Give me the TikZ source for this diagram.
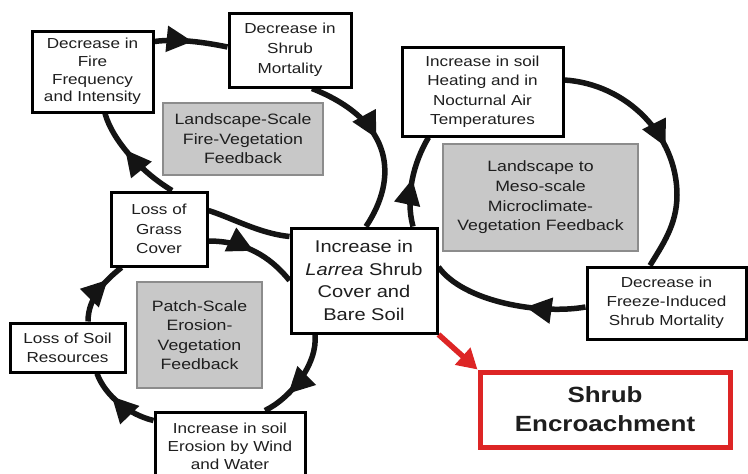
\documentclass[tikz,border=0pt]{standalone}
\usepackage{fontspec}
\setmainfont{Liberation Sans}[FakeStretch=1.18]
\usetikzlibrary{arrows.meta,decorations.markings,calc}
\pgfdeclarelayer{back}
\pgfdeclarelayer{bg}
\pgfsetlayers{back,bg,main}
\definecolor{fbgray}{RGB}{200,200,200}
\definecolor{fbedge}{RGB}{140,140,140}
\definecolor{encred}{RGB}{221,37,37}
\definecolor{txt}{RGB}{30,30,30}
\tikzset{
  box/.style={draw=black,line width=3pt,fill=white,align=center,inner sep=0pt,text=txt,
    font=\fontsize{14.5}{19}\selectfont},
  fb/.style={draw=fbedge,line width=2pt,fill=fbgray,align=center,inner sep=0pt,text=txt,
    font=\fontsize{15}{19.5}\selectfont},
  fbline/.style={line width=5.5pt,black!92},
  tipat/.style={postaction={decorate},
    decoration={markings,mark=at position #1 with {\arrow{Triangle[length=26pt,width=25pt]}}}},
}
\begin{document}
\begin{tikzpicture}[x=1pt,y=-1pt]
\clip (0,0) rectangle (748,474);
\begin{pgfonlayer}{back}
\fill[white] (0,0) rectangle (748,474);
\end{pgfonlayer}

% boxes
\node[box,minimum width=121pt,minimum height=81pt,font=\fontsize{14.5}{17.7}\selectfont] (fire) at (92.5,71.5)
  {Decrease in\\Fire\\Frequency\\and Intensity};
\node[box,minimum width=122pt,minimum height=74pt,font=\fontsize{14.5}{20}\selectfont] (mort) at (290,50)
  {Decrease in\\Shrub\\Mortality};
\node[fb,minimum width=160pt,minimum height=72pt] (fireFb) at (243,139)
  {Landscape-Scale\\Fire-Vegetation\\Feedback};
\node[box,minimum width=96pt,minimum height=74pt,font=\fontsize{14.5}{19.5}\selectfont] (grass) at (159,229)
  {Loss of\\Grass\\Cover};
\node[box,minimum width=146pt,minimum height=105pt,font=\fontsize{17}{22.5}\selectfont] (larrea) at (364,280.5)
  {Increase in\\\textit{Larrea} Shrub\\Cover and\\Bare Soil};
\node[box,minimum width=161pt,minimum height=89pt,font=\fontsize{14.5}{19.5}\selectfont] (heat) at (482.5,91.5)
  {Increase in soil\\Heating and in\\Nocturnal Air\\Temperatures};
\node[fb,minimum width=195pt,minimum height=107pt,font=\fontsize{15}{19.6}\selectfont] (microFb) at (540.5,197.5)
  {Landscape to\\Meso-scale\\Microclimate-\\Vegetation Feedback};
\node[box,minimum width=159pt,minimum height=72pt] (freeze) at (666.5,303)
  {Decrease in\\Freeze-Induced\\Shrub Mortality};
\node[draw=encred,line width=5pt,fill=white,align=center,inner sep=0pt,text=txt,
  minimum width=250pt,minimum height=75pt,font=\bfseries\fontsize{22}{29}\selectfont] (shrub) at (605,409.5)
  {Shrub\\Encroachment};
\node[box,minimum width=115pt,minimum height=49pt] (soil) at (67.5,347.5)
  {Loss of Soil\\Resources};
\node[fb,minimum width=125pt,minimum height=106pt,font=\fontsize{15}{19.3}\selectfont] (patchFb) at (199.5,335)
  {Patch-Scale\\Erosion-\\Vegetation\\Feedback};
\node[box,minimum width=150pt,minimum height=68pt,font=\fontsize{14.5}{18}\selectfont] (erosion) at (230,446)
  {Increase in soil\\Erosion by Wind\\and Water};

\begin{pgfonlayer}{bg}
% fire loop
\draw[fbline,tipat=0.52] ($(fire.north east)+(0,12)$) .. controls +(22,-3) and +(-24,-5) .. ($(mort.west)+(0,-3)$);
\draw[fbline,tipat=0.47] ($(mort.south)+(22,0)$) .. controls +(83,33) and +(32,-48) .. ($(larrea.north)+(2,0)$);
\draw[fbline] ($(larrea.north west)+(0,10)$) .. controls +(-30,-3) and +(25,8) .. ($(grass.north east)+(0,20)$);
\draw[fbline,tipat=0.6] ($(grass.north)+(13,0)$) .. controls +(-30,-18) and +(8,28) .. ($(fire.south)+(12.5,0)$);
% patch loop
\draw[fbline,tipat=0.5] ($(grass.east)+(0,12)$) .. controls +(35,0) and +(-20,-25) .. (larrea.west);
\draw[fbline,tipat=0.7] ($(larrea.south)+(-49,0)$) .. controls +(3,30) and +(25,-12) .. ($(erosion.north)+(35,0)$);
\draw[fbline,tipat=0.64] ($(erosion.north west)+(0,10)$) .. controls +(-25,-6) and +(8,22) .. ($(soil.south)+(29.5,0)$);
\draw[fbline,tipat=0.72] ($(soil.north)+(20.5,0)$) .. controls +(0,-25) and +(-15,12) .. ($(grass.south west)+(12,0)$);
% microclimate loop
\draw[fbline,tipat=0.52] ($(larrea.north)+(49,0)$) .. controls +(-8,-30) and +(-15,25) .. ($(heat.south west)+(28,0)$);
\draw[fbline,tipat=0.5] ($(heat.east)+(0,-11.5)$) .. controls +(62,4) and +(0,-60) .. (677,195)
   .. controls +(0,30) and +(12,-20) .. ($(freeze.north)+(-16.5,0)$);
\draw[fbline,tipat=0.38] ($(freeze.west)+(0,4)$) .. controls +(-45,8) and +(25,35) .. ($(larrea.east)+(0,-13.5)$);
% red arrow
\draw[line width=5.5pt,encred,-{Triangle[length=20pt,width=22pt]}] (larrea.south east) -- (shrub.north west);
\end{pgfonlayer}
\end{tikzpicture}
\end{document}
